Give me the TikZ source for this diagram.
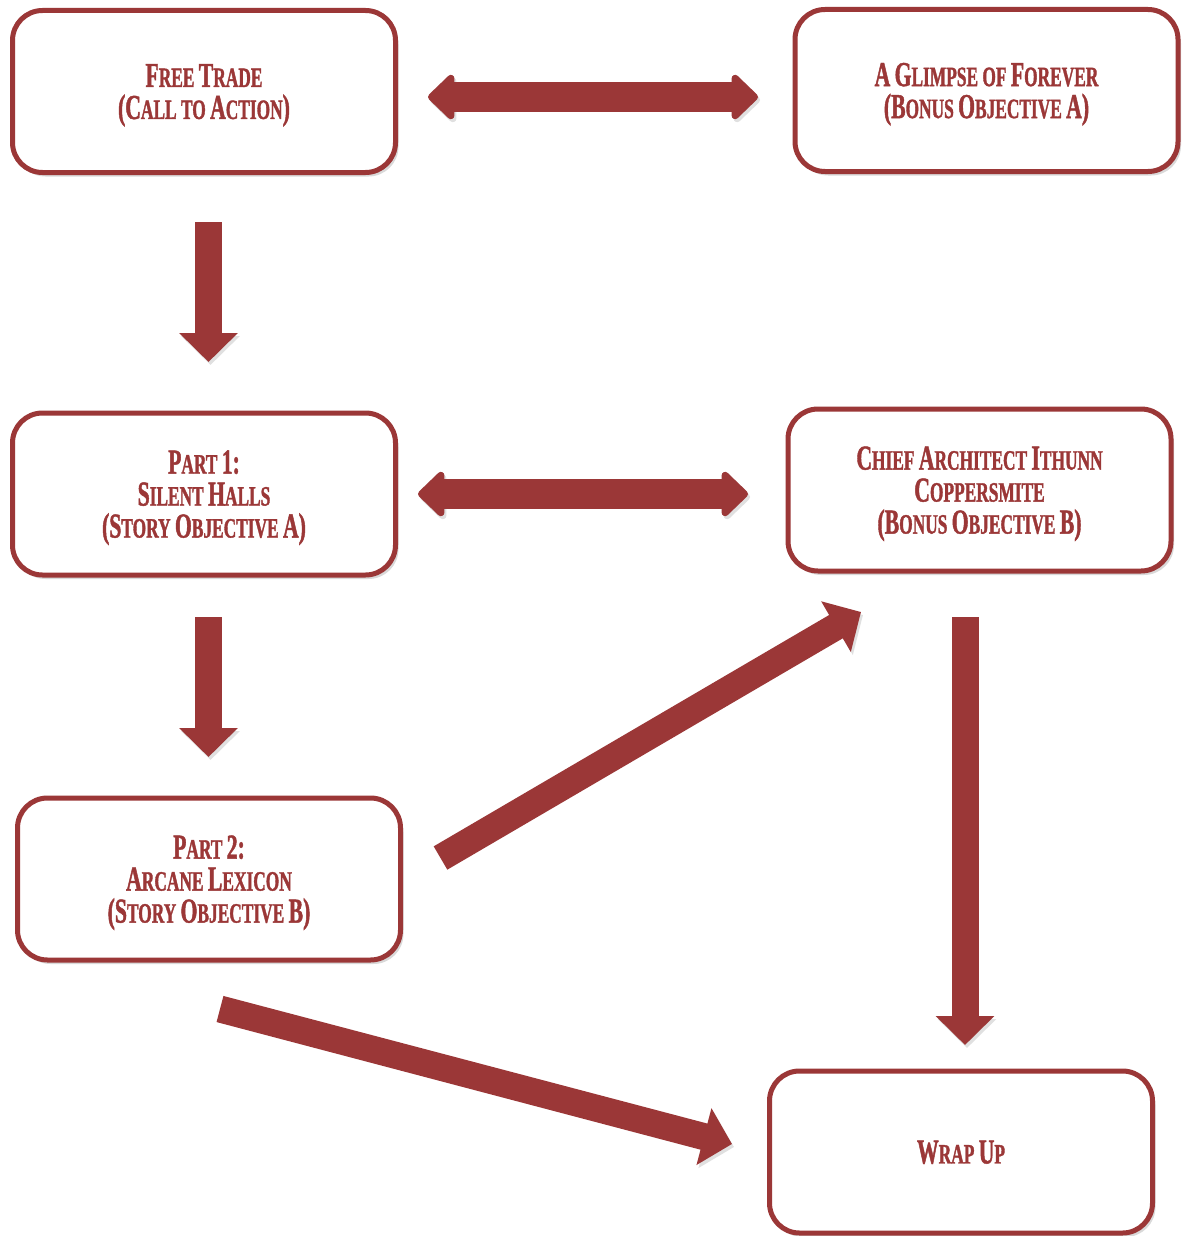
\documentclass[tikz,border=0pt]{standalone}
\usepackage{fontspec}
\usetikzlibrary{arrows.meta,shadows}
\newfontfamily\hfont[FakeStretch=0.62,FakeBold=1.2]{Liberation Serif}
\definecolor{myred}{RGB}{155,55,55}
\newcommand\Bg[1]{{\fontsize{35}{32}\selectfont #1}}
\tikzset{
  box/.style={draw=myred, line width=5pt, rounded corners=30pt, fill=white,
    minimum width=383pt, minimum height=162pt, align=center, text=myred,
    text depth=0pt,
    font=\hfont\bfseries\fontsize{28}{32}\selectfont,
    drop shadow={shadow xshift=3pt, shadow yshift=-4pt, fill=black, opacity=0.15}},
  shade/.style={preaction={draw=black!12, transform canvas={shift={(2pt,-3pt)}}}},
  onearrow/.style={draw=myred, line width=27pt, -{Triangle[width=57pt,length=29pt]}, shade},
  twoarrow/.style={draw=myred, line width=30pt, {Triangle[width=52pt,length=28pt,round]}-{Triangle[width=52pt,length=28pt,round]}, shade}
}
\begin{document}
\begin{tikzpicture}[x=1pt,y=-1pt]
\useasboundingbox (0,0) rectangle (1183,1236);
\fill[white] (0,0) rectangle (1183,1236);

\node[box] (b1) at (204,91.5) {\Bg{F}REE \Bg{T}RADE\\\Bg{(C}ALL TO \Bg{A}CTION\Bg{)}};
\node[box] (b2) at (986.5,90.5) {\Bg{A} \Bg{G}LIMPSE OF \Bg{F}OREVER\\\Bg{(B}ONUS \Bg{O}BJECTIVE \Bg{A)}};
\node[box] (b3) at (204,494) {\Bg{P}ART \Bg{1:}\\\Bg{S}ILENT \Bg{H}ALLS\\\Bg{(S}TORY \Bg{O}BJECTIVE \Bg{A)}};
\node[box] (b4) at (979.5,490) {\Bg{C}HIEF \Bg{A}RCHITECT \Bg{I}THUNN\\\Bg{C}OPPERSMITE\\\Bg{(B}ONUS \Bg{O}BJECTIVE \Bg{B)}};
\node[box] (b5) at (209,879) {\Bg{P}ART \Bg{2:}\\\Bg{A}RCANE \Bg{L}EXICON\\\Bg{(S}TORY \Bg{O}BJECTIVE \Bg{B)}};
\node[box] (b6) at (961,1152) {\Bg{W}RAP \Bg{U}P};

% arrow end points
\coordinate (a1s) at (428,97);
\coordinate (a1e) at (758,97);
\coordinate (a2s) at (418,494);
\coordinate (a2e) at (748,494);
\coordinate (d1s) at (208.5,222);
\coordinate (d1e) at (208.5,362);
\coordinate (d2s) at (208.5,617);
\coordinate (d2e) at (208.5,757);
\coordinate (d3s) at (965,617);
\coordinate (d3e) at (965,1045);
\coordinate (g1s) at (440.5,858);
\coordinate (g1e) at (861,612);
\coordinate (g2s) at (220,1009);
\coordinate (g2e) at (732,1144);

\draw[twoarrow] (a1s) -- (a1e);
\draw[twoarrow] (a2s) -- (a2e);
\draw[onearrow] (d1s) -- (d1e);
\draw[onearrow] (d2s) -- (d2e);
\draw[onearrow] (d3s) -- (d3e);
\draw[onearrow] (g1s) -- (g1e);
\draw[onearrow] (g2s) -- (g2e);
\end{tikzpicture}
\end{document}
